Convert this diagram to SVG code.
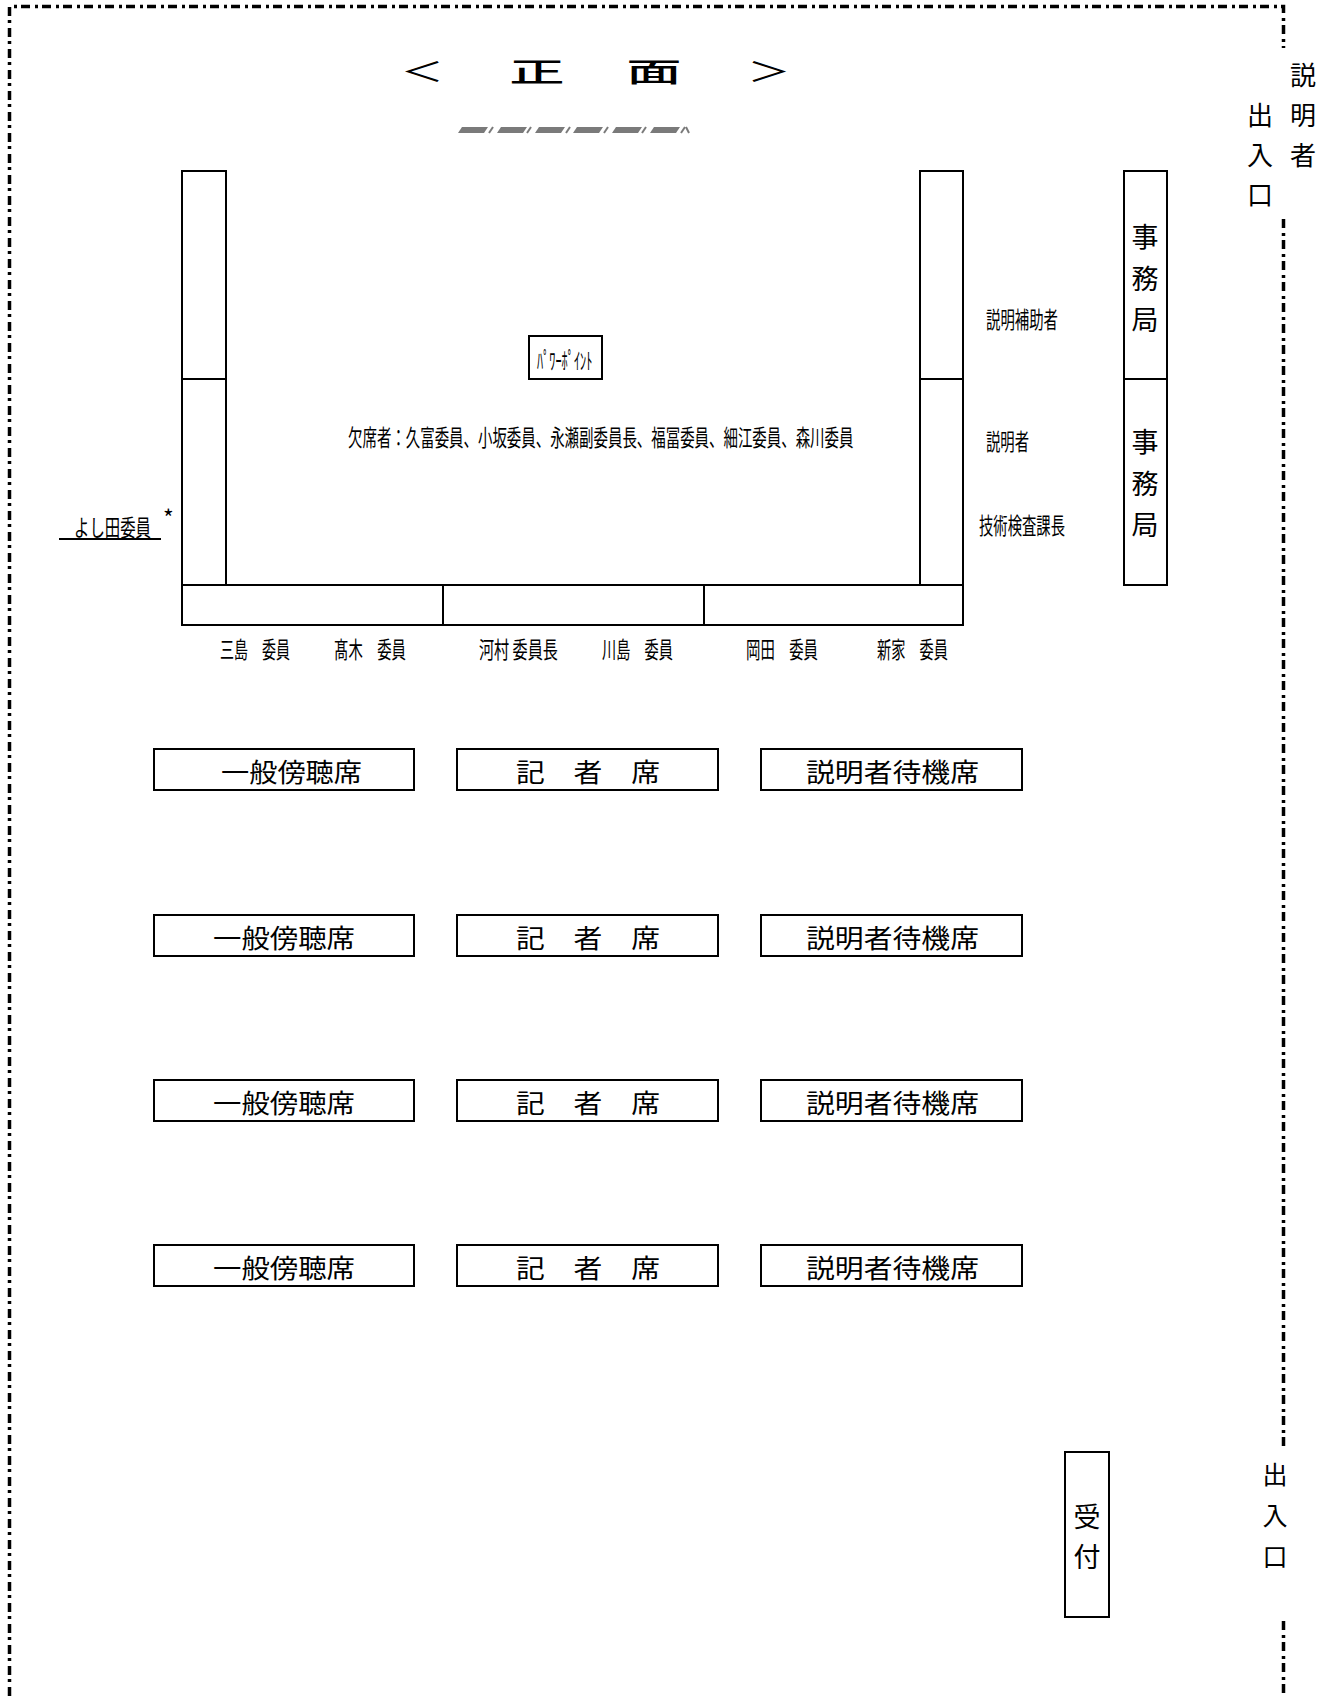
<svg xmlns="http://www.w3.org/2000/svg" width="1329" height="1696" viewBox="0 0 1329 1696">
<style>
.bd{fill:none;stroke:#000;stroke-width:3.5;stroke-dasharray:9 5 3 4}
.bx{fill:#fff;stroke:#000;stroke-width:2}
.t{font-family:"Noto Sans CJK JP","Noto Sans",sans-serif;fill:#000;dominant-baseline:central;text-anchor:middle}
.c{font-family:"Noto Sans CJK JP","Noto Sans",sans-serif;fill:#000;dominant-baseline:central;font-size:23px}
.v{font-size:26px}
.s{font-size:26px}
.g{fill:#7a7a7a}
.gl{stroke:#7a7a7a;stroke-width:2}
</style>
<rect width="1329" height="1696" fill="#fff"/>
<g id="border">
<path class="bd" d="M9.5,1696 V6.5 H1283.5 V48"/>
<path class="bd" d="M1283.5,219 V1448"/>
<path class="bd" d="M1283.5,1621 V1696"/>
</g>
<g id="title">
<text class="t" font-size="27" transform="translate(422,70) scale(1.6,1)">＜</text>
<text class="t" font-size="27" font-weight="500" transform="translate(537,70) scale(2.05,1)">正</text>
<text class="t" font-size="27" font-weight="500" transform="translate(654,70) scale(2.05,1)">面</text>
<text class="t" font-size="27" transform="translate(769,70) scale(1.6,1)">＞</text>
</g>
<g id="screen">
<polygon class="g" points="458,133 462,127 488,127 484,133"/>
<polygon class="g" points="497,133 501,127 527,127 523,133"/>
<polygon class="g" points="535,133 539,127 565,127 561,133"/>
<polygon class="g" points="573,133 577,127 603,127 599,133"/>
<polygon class="g" points="612,133 616,127 642,127 638,133"/>
<polygon class="g" points="650,133 654,127 680,127 676,133"/>
<line class="gl" x1="489" y1="133" x2="493" y2="127"/>
<line class="gl" x1="527" y1="133" x2="531" y2="127"/>
<line class="gl" x1="566" y1="133" x2="570" y2="127"/>
<line class="gl" x1="604" y1="133" x2="608" y2="127"/>
<line class="gl" x1="642" y1="133" x2="646" y2="127"/>
<line class="gl" x1="681" y1="133" x2="685" y2="127"/>
<line class="gl" x1="686" y1="127" x2="689" y2="133"/>
</g>
<g id="table-left">
<rect class="bx" x="182" y="171" width="44" height="208"/>
<rect class="bx" x="182" y="379" width="44" height="206"/>
</g>
<g id="table-right">
<rect class="bx" x="920" y="171" width="43" height="208"/>
<rect class="bx" x="920" y="379" width="43" height="206"/>
</g>
<g id="table-bottom">
<rect class="bx" x="182" y="585" width="261" height="40"/>
<rect class="bx" x="443" y="585" width="261" height="40"/>
<rect class="bx" x="704" y="585" width="259" height="40"/>
</g>
<g id="powerpoint">
<rect class="bx" x="529" y="336" width="73" height="43"/>
<text class="c" font-size="20" transform="translate(537,359) scale(0.535,1)">ﾊﾟﾜｰﾎﾟｲﾝﾄ</text>
</g>
<g id="absent">
<text class="c" transform="translate(348,436) scale(0.6286,1)">欠席者：久富委員、小坂委員、永瀬副委員長、福冨委員、細江委員、森川委員</text>
</g>
<g id="yoshida">
<text class="c" transform="translate(74,526) scale(0.67,1)">よし田委員</text>
<text class="c" x="163" y="517" font-size="16">*</text>
<line x1="59" y1="539" x2="161" y2="539" stroke="#000" stroke-width="2"/>
</g>
<g id="members">
<text class="c" transform="translate(220,648) scale(0.609,1)">三島　委員</text>
<text class="c" transform="translate(334,648) scale(0.626,1)">髙木　委員</text>
<text class="c" transform="translate(479,648) scale(0.657,1)">河村 委員長</text>
<text class="c" transform="translate(602,648) scale(0.617,1)">川島　委員</text>
<text class="c" transform="translate(746,648) scale(0.626,1)">岡田　委員</text>
<text class="c" transform="translate(877,648) scale(0.617,1)">新家　委員</text>
</g>
<g id="explainers">
<text class="c" transform="translate(986,318) scale(0.626,1)">説明補助者</text>
<text class="c" transform="translate(986,440) scale(0.623,1)">説明者</text>
<text class="c" transform="translate(979,524) scale(0.623,1)">技術検査課長</text>
</g>
<g id="jimukyoku-1">
<rect class="bx" x="1124" y="171" width="43" height="208"/>
<text class="t" font-size="27" x="1145" y="235">事</text>
<text class="t" font-size="27" x="1145" y="277">務</text>
<text class="t" font-size="27" x="1145" y="318">局</text>
</g>
<g id="jimukyoku-2">
<rect class="bx" x="1124" y="379" width="43" height="206"/>
<text class="t" font-size="27" x="1145" y="440">事</text>
<text class="t" font-size="27" x="1145" y="482">務</text>
<text class="t" font-size="27" x="1145" y="523">局</text>
</g>
<g id="entrance-top">
<text class="t v" x="1303" y="73">説</text>
<text class="t v" x="1303" y="113">明</text>
<text class="t v" x="1303" y="153">者</text>
<text class="t v" x="1260" y="113">出</text>
<text class="t v" x="1260" y="153">入</text>
<text class="t v" x="1260" y="193">口</text>
</g>
<g id="seats">
<rect class="bx" x="154" y="749" width="260" height="41"/>
<rect class="bx" x="457" y="749" width="261" height="41"/>
<rect class="bx" x="761" y="749" width="261" height="41"/>
<text class="c s" x="221" y="770" textLength="141" lengthAdjust="spacingAndGlyphs">一般傍聴席</text>
<text class="c s" x="516" y="770" textLength="144" lengthAdjust="spacingAndGlyphs">記　者　席</text>
<text class="c s" x="806" y="770" textLength="173" lengthAdjust="spacingAndGlyphs">説明者待機席</text>
<rect class="bx" x="154" y="915" width="260" height="41"/>
<rect class="bx" x="457" y="915" width="261" height="41"/>
<rect class="bx" x="761" y="915" width="261" height="41"/>
<text class="c s" x="213" y="936" textLength="142" lengthAdjust="spacingAndGlyphs">一般傍聴席</text>
<text class="c s" x="516" y="936" textLength="144" lengthAdjust="spacingAndGlyphs">記　者　席</text>
<text class="c s" x="806" y="936" textLength="173" lengthAdjust="spacingAndGlyphs">説明者待機席</text>
<rect class="bx" x="154" y="1080" width="260" height="41"/>
<rect class="bx" x="457" y="1080" width="261" height="41"/>
<rect class="bx" x="761" y="1080" width="261" height="41"/>
<text class="c s" x="213" y="1101" textLength="142" lengthAdjust="spacingAndGlyphs">一般傍聴席</text>
<text class="c s" x="516" y="1101" textLength="144" lengthAdjust="spacingAndGlyphs">記　者　席</text>
<text class="c s" x="806" y="1101" textLength="173" lengthAdjust="spacingAndGlyphs">説明者待機席</text>
<rect class="bx" x="154" y="1245" width="260" height="41"/>
<rect class="bx" x="457" y="1245" width="261" height="41"/>
<rect class="bx" x="761" y="1245" width="261" height="41"/>
<text class="c s" x="213" y="1266" textLength="142" lengthAdjust="spacingAndGlyphs">一般傍聴席</text>
<text class="c s" x="516" y="1266" textLength="144" lengthAdjust="spacingAndGlyphs">記　者　席</text>
<text class="c s" x="806" y="1266" textLength="173" lengthAdjust="spacingAndGlyphs">説明者待機席</text>
</g>
<g id="reception">
<rect class="bx" x="1065" y="1452" width="44" height="165"/>
<text class="t" font-size="27" x="1087" y="1515">受</text>
<text class="t" font-size="27" x="1087" y="1555">付</text>
</g>
<g id="entrance-bottom">
<text class="t" font-size="25" x="1275" y="1473">出</text>
<text class="t" font-size="25" x="1275" y="1514">入</text>
<text class="t" font-size="25" x="1275" y="1555">口</text>
</g>
</svg>
